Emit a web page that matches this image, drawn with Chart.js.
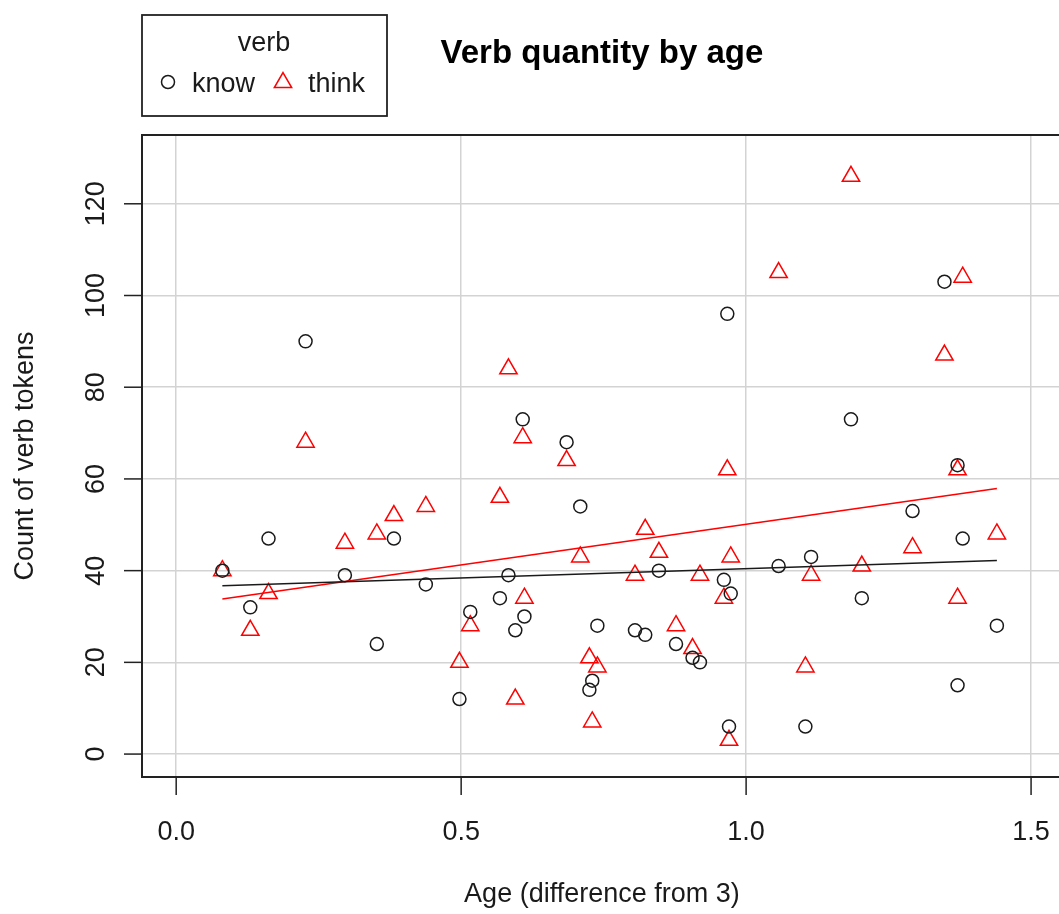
<!DOCTYPE html>
<html>
<head>
<meta charset="utf-8">
<script src="https://cdn.jsdelivr.net/npm/chart.js@4/dist/chart.umd.min.js"></script>
<style>
  html, body { margin: 0; padding: 0; background: #fff; overflow: hidden; }
  #wrap { width: 1059px; height: 914px; position: relative; }
  canvas { display: block; }
</style>
</head>
<body>
<div id="wrap"><canvas id="c" width="1059" height="914"></canvas></div>
<script>
// ---- Data ----
const ages = [0.081, 0.130, 0.162, 0.227, 0.296, 0.352, 0.382, 0.438, 0.497, 0.516,
              0.568, 0.583, 0.595, 0.608, 0.611, 0.685, 0.709, 0.725, 0.730, 0.739,
              0.805, 0.823, 0.847, 0.877, 0.906, 0.919, 0.961, 0.967, 0.970, 0.973,
              1.057, 1.104, 1.114, 1.184, 1.203, 1.292, 1.348, 1.371, 1.371, 1.380, 1.440];
const knowCounts = [40, 32, 47, 90, 39, 24, 47, 37, 12, 31,
                    34, 39, 27, 73, 30, 68, 54, 14, 16, 28,
                    27, 26, 40, 24, 21, 20, 38, 96, 6, 35,
                    41, 6, 43, 73, 34, 53, 103, 63, 15, 47, 28];
const thinkCounts = [40, 27, 35, 68, 46, 48, 52, 54, 20, 28,
                     56, 84, 12, 69, 34, 64, 43, 21, 7, 19,
                     39, 49, 44, 28, 23, 39, 34, 62, 3, 43,
                     105, 19, 39, 126, 41, 45, 87, 62, 34, 104, 48];
// fitted regression lines (endpoints)
const fitX = [0.081, 1.44];
const knowFitY = [36.7, 42.2];
const thinkFitY = [33.8, 57.9];

const xTicks = [0, 0.5, 1.0, 1.5];
const xTickLabels = ['0.0', '0.5', '1.0', '1.5'];
const yTicks = [0, 20, 40, 60, 80, 100, 120];
const yTickLabels = ['0', '20', '40', '60', '80', '100', '120'];

const titleText = 'Verb quantity by age';
const xTitle = 'Age (difference from 3)';
const yTitle = 'Count of verb tokens';
const legendTitle = 'verb';
const seriesNames = ['know', 'think'];

const FONT = "'Liberation Sans', Arial, Helvetica, sans-serif";

const knowPts = ages.map((a, i) => ({ x: a, y: knowCounts[i] }));
const thinkPts = ages.map((a, i) => ({ x: a, y: thinkCounts[i] }));
const knowFit = fitX.map((a, i) => ({ x: a, y: knowFitY[i] }));
const thinkFit = fitX.map((a, i) => ({ x: a, y: thinkFitY[i] }));

function triPath(ctx, x, y, r) {
  ctx.beginPath();
  let rad = 0;
  for (let k = 0; k < 3; k++) {
    const px = x + Math.sin(rad) * r, py = y - Math.cos(rad) * r;
    if (k === 0) ctx.moveTo(px, py); else ctx.lineTo(px, py);
    rad += 2 * Math.PI / 3;
  }
  ctx.closePath();
}

const decor = {
  id: 'decor',
  afterDraw(chart) {
    const ctx = chart.ctx;
    const { left, top, right, bottom } = chart.chartArea;
    const xs = chart.scales.x, ys = chart.scales.y;
    ctx.save();
    // frame (right side lies just beyond the picture edge)
    ctx.strokeStyle = '#222';
    ctx.lineWidth = 2;
    ctx.beginPath();
    ctx.moveTo(right + 4, top); ctx.lineTo(left, top); ctx.lineTo(left, bottom); ctx.lineTo(right + 4, bottom);
    ctx.stroke();
    // x ticks
    ctx.lineWidth = 1.5;
    ctx.fillStyle = '#1a1a1a';
    ctx.font = '27px ' + FONT;
    ctx.textAlign = 'center';
    ctx.textBaseline = 'alphabetic';
    xTicks.forEach((v, i) => {
      const px = xs.getPixelForValue(v);
      ctx.beginPath(); ctx.moveTo(px, bottom); ctx.lineTo(px, bottom + 18); ctx.stroke();
      ctx.fillText(xTickLabels[i], px, 840);
    });
    // y ticks
    yTicks.forEach((v, i) => {
      const py = ys.getPixelForValue(v);
      ctx.beginPath(); ctx.moveTo(left - 18, py); ctx.lineTo(left, py); ctx.stroke();
      ctx.save();
      ctx.translate(104, py);
      ctx.rotate(-Math.PI / 2);
      ctx.fillText(yTickLabels[i], 0, 0);
      ctx.restore();
    });
    // axis titles
    const plotRight = xs.getPixelForValue(1.554);
    const cx = (left + plotRight) / 2;
    ctx.fillText(xTitle, cx, 902);
    ctx.save();
    ctx.translate(33, (top + bottom) / 2);
    ctx.rotate(-Math.PI / 2);
    ctx.fillText(yTitle, 0, 0);
    ctx.restore();
    // main title
    ctx.fillStyle = '#000';
    ctx.font = 'bold 33px ' + FONT;
    ctx.fillText(titleText, cx, 63);
    // legend box
    ctx.strokeStyle = '#222';
    ctx.lineWidth = 1.8;
    ctx.strokeRect(142, 15, 245, 101);
    ctx.fillStyle = '#1a1a1a';
    ctx.font = '27px ' + FONT;
    ctx.textAlign = 'center';
    ctx.fillText(legendTitle, 264, 51);
    ctx.textAlign = 'left';
    ctx.fillText(seriesNames[0], 192, 92);
    ctx.fillText(seriesNames[1], 308, 92);
    ctx.lineWidth = 1.5;
    ctx.strokeStyle = '#1a1a1a';
    ctx.beginPath(); ctx.arc(168, 82, 6.5, 0, Math.PI * 2); ctx.stroke();
    ctx.strokeStyle = '#ff0000';
    triPath(ctx, 283, 82.5, 10); ctx.stroke();
    ctx.restore();
  }
};

new Chart(document.getElementById('c'), {
  type: 'scatter',
  data: {
    datasets: [
      { label: 'knowFit', type: 'line', data: knowFit, borderColor: '#1a1a1a', borderWidth: 1.5,
        pointRadius: 0, fill: false, order: 0 },
      { label: 'thinkFit', type: 'line', data: thinkFit, borderColor: '#ff0000', borderWidth: 1.5,
        pointRadius: 0, fill: false, order: 0 },
      { label: seriesNames[0], data: knowPts, pointStyle: 'circle', pointRadius: 6.5,
        borderColor: '#1a1a1a', backgroundColor: 'rgba(0,0,0,0)', pointBorderWidth: 1.5, order: 1 },
      { label: seriesNames[1], data: thinkPts, pointStyle: 'triangle', pointRadius: 10,
        borderColor: '#ff0000', backgroundColor: 'rgba(0,0,0,0)', pointBorderWidth: 1.5, order: 2 }
    ]
  },
  options: {
    responsive: false,
    animation: false,
    layout: { autoPadding: false, padding: { left: 142, right: 0, top: 135, bottom: 137 } },
    plugins: { legend: { display: false }, tooltip: { enabled: false }, title: { display: false } },
    scales: {
      x: {
        type: 'linear', min: -0.06, max: 1.549,
        afterBuildTicks: s => { s.ticks = xTicks.map(v => ({ value: v })); },
        afterFit: s => { s.height = 0; },
        ticks: { display: false },
        border: { display: false },
        grid: { color: '#d3d3d3', lineWidth: 1.5, drawTicks: false }
      },
      y: {
        type: 'linear', min: -5.0, max: 135.0,
        afterBuildTicks: s => { s.ticks = yTicks.map(v => ({ value: v })); },
        afterFit: s => { s.width = 0; },
        ticks: { display: false },
        border: { display: false },
        grid: { color: '#d3d3d3', lineWidth: 1.5, drawTicks: false }
      }
    }
  },
  plugins: [decor]
});
</script>
</body>
</html>
